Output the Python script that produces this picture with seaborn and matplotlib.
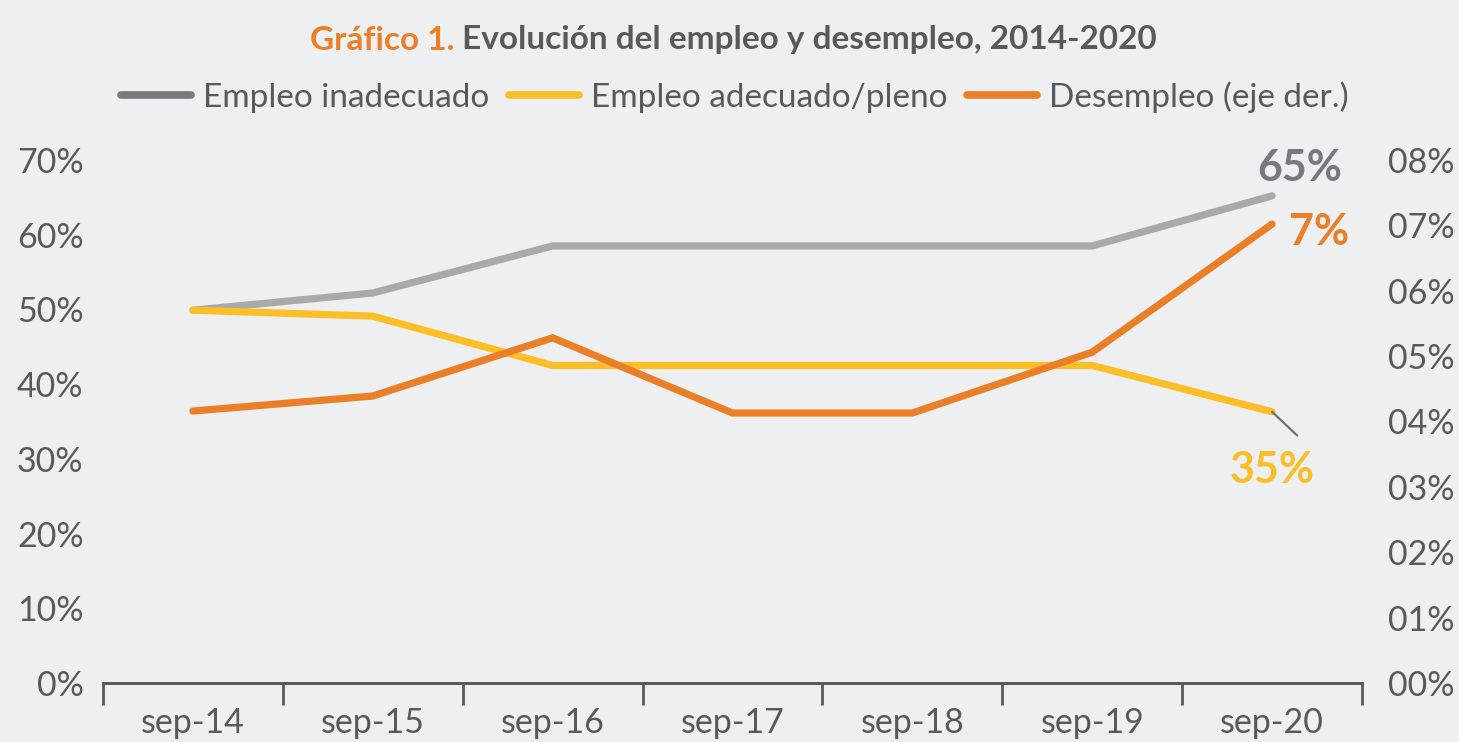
import numpy as np
import pandas as pd
import matplotlib.pyplot as plt
import seaborn as sns
from matplotlib.lines import Line2D
from matplotlib.ticker import FixedLocator

# datos
fechas = ["sep-14", "sep-15", "sep-16", "sep-17", "sep-18", "sep-19", "sep-20"]
empleo_inadecuado = [49.9, 52.2, 58.5, 58.5, 58.5, 58.5, 65.2]
empleo_adecuado = [49.9, 49.1, 42.5, 42.5, 42.5, 42.5, 36.3]
desempleo = [4.16, 4.39, 5.28, 4.13, 4.13, 5.06, 7.02]
ticks_izq = [0, 10, 20, 30, 40, 50, 60, 70]
ticks_der = [0, 1, 2, 3, 4, 5, 6, 7, 8]

bg = "#EEEFF1"
txt = "#58595B"
gris = "#A7A9AA"
gris_osc = "#77797C"
amarillo = "#FDBE28"
naranja = "#EB7F27"

sns.set_theme(style="white")
plt.rcParams["font.family"] = ["Lato", "DejaVu Sans"]

df = pd.DataFrame({
    "fecha": fechas * 2,
    "valor": empleo_inadecuado + empleo_adecuado,
    "serie": ["Empleo inadecuado"] * 7 + ["Empleo adecuado/pleno"] * 7,
})
df_des = pd.DataFrame({"fecha": fechas, "valor": desempleo})

fig = plt.figure(figsize=(14.59, 7.42), dpi=100, facecolor=bg)
ax = fig.add_axes([103 / 1459, 1 - 683 / 742, 1259 / 1459, 523 / 742])
ax.set_facecolor(bg)

sns.lineplot(data=df, x="fecha", y="valor", hue="serie",
             palette={"Empleo inadecuado": gris, "Empleo adecuado/pleno": amarillo},
             linewidth=5.2, legend=False, sort=False, ax=ax)
for ln in ax.lines:
    ln.set_solid_capstyle("round")
    ln.set_solid_joinstyle("miter")

ax2 = ax.twinx()
sns.lineplot(data=df_des, x="fecha", y="valor", color=naranja,
             linewidth=5.2, sort=False, ax=ax2)
for ln in ax2.lines:
    ln.set_solid_capstyle("round")
    ln.set_solid_joinstyle("miter")

ax.set_xlim(-0.5, 6.5)
ax.set_ylim(0, 70)
ax2.set_ylim(0, 8)

for a in (ax, ax2):
    for s in ["top", "left", "right"]:
        a.spines[s].set_visible(False)
    a.spines["bottom"].set_color(txt)
    a.spines["bottom"].set_linewidth(2)
    a.set_xlabel("")
    a.set_ylabel("")

ax.set_xticks(range(len(fechas)))
ax.set_xticklabels(fechas)
ax.xaxis.set_minor_locator(FixedLocator(np.arange(-0.5, 7, 1)))
ax.tick_params(axis="x", which="major", length=0, pad=17, labelsize=24.5, labelcolor=txt)
ax.tick_params(axis="x", which="minor", length=16, width=2, color=txt, direction="out", bottom=True)

ax.set_yticks(ticks_izq)
ax.set_yticklabels([f"{t}%" for t in ticks_izq])
ax.tick_params(axis="y", length=0, pad=14, labelsize=24.5, labelcolor=txt)
ax2.set_yticks(ticks_der)
ax2.set_yticklabels([f"0{t}%" for t in ticks_der])
ax2.tick_params(axis="y", length=0, pad=19, labelsize=24.5, labelcolor=txt)
ax.grid(False)
ax2.grid(False)

# etiquetas finales
ax.annotate("65%", xy=(6, empleo_inadecuado[-1]), xytext=(20, 20), textcoords="offset points",
            ha="center", va="center", fontsize=31, fontweight="bold", color=gris_osc)
ax2.annotate("7%", xy=(6, desempleo[-1]), xytext=(12, -6), textcoords="offset points",
             ha="left", va="center", fontsize=31, fontweight="bold", color=naranja)
ax.annotate("", xy=(6, empleo_adecuado[-1]), xytext=(18, -17), textcoords="offset points",
            arrowprops=dict(arrowstyle="-", color="#6D6F71", lw=1.6, shrinkA=0, shrinkB=0))
ax.annotate("35%", xy=(6, empleo_adecuado[-1]), xytext=(0, -42), textcoords="offset points",
            ha="center", va="center", fontsize=31, fontweight="bold", color=amarillo)

# leyenda
handles = [Line2D([], [], color=gris_osc, lw=5.5, solid_capstyle="round"),
           Line2D([], [], color=amarillo, lw=5.5, solid_capstyle="round"),
           Line2D([], [], color=naranja, lw=5.5, solid_capstyle="round")]
labels = ["Empleo inadecuado", "Empleo adecuado/pleno", "Desempleo (eje der.)"]
leg = fig.legend(handles, labels, loc="center", bbox_to_anchor=(735 / 1459, 1 - 97 / 742),
                 ncol=3, frameon=False, fontsize=24, handlelength=2.1, handletextpad=0.35,
                 columnspacing=0.6)
for t in leg.get_texts():
    t.set_color(txt)

# titulo en dos colores
t1 = fig.text(310 / 1459, 1 - 40 / 742, "Gráfico 1.", ha="left", va="center",
              fontsize=24, fontweight="bold", color=naranja)
ax.annotate(" Evolución del empleo y desempleo, 2014-2020", xy=(1, 0.5), xycoords=t1,
            ha="left", va="center", fontsize=24, fontweight="bold", color=txt,
            annotation_clip=False)

fig.savefig("out.png", dpi=100, facecolor=bg)
